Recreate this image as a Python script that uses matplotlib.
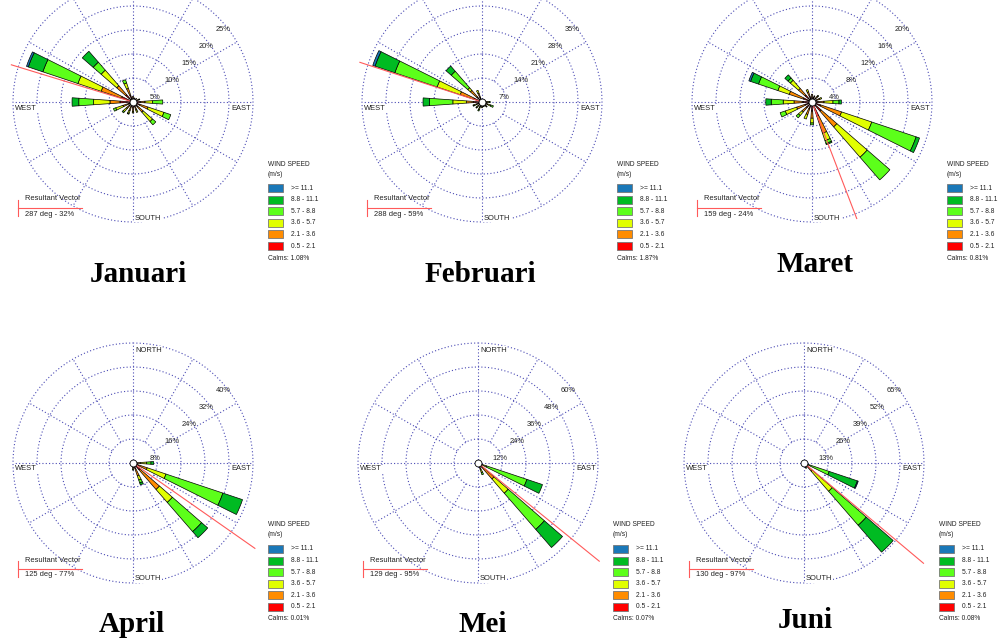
import numpy as np
import matplotlib.pyplot as plt
from matplotlib.patches import Rectangle

W, H = 998, 639

months = ["Januari", "Februari", "Maret", "April", "Mei", "Juni"]
ring_step = [5, 7, 4, 8, 12, 13]
calms = [1.08, 1.87, 0.81, 0.01, 0.07, 0.08]
result_dir = [287, 288, 159, 125, 129, 130]
result_pct = [32, 59, 24, 77, 95, 97]
directions = np.arange(16) * 22.5
speed_labels = [">= 11.1", "8.8 - 11.1", "5.7 - 8.8", "3.6 - 5.7", "2.1 - 3.6", "0.5 - 2.1"]

# frequency (%) per direction (N, NNE, ... NNW), classes from calm side out:
# 0.5-2.1, 2.1-3.6, 3.6-5.7, 5.7-8.8, 8.8-11.1, >=11.1
jan = [[0.8, 0.4, 0, 0, 0, 0], [0.6, 0.3, 0, 0, 0, 0], [0.7, 0.3, 0, 0, 0, 0],
       [0.8, 0.5, 0.2, 0, 0, 0], [1.5, 1.0, 1.6, 2.1, 0, 0], [1.5, 1.8, 3.5, 1.5, 0, 0],
       [1.3, 1.5, 2.6, 0.9, 0, 0], [1.0, 0.8, 0.5, 0, 0, 0], [1.2, 0.8, 0.3, 0, 0, 0],
       [1.0, 0.9, 0.6, 0.2, 0, 0], [0.9, 0.9, 0.9, 0.3, 0, 0], [1.0, 1.2, 1.6, 0.5, 0, 0],
       [2.7, 2.1, 3.4, 3.1, 1.4, 0], [2.5, 4.5, 5.1, 7.7, 3.2, 0.4], [2.0, 2.5, 4.3, 2.2, 3.0, 0],
       [1.5, 1.5, 1.2, 0.7, 0, 0]]
feb = [[0.6, 0.3, 0, 0, 0, 0], [0.5, 0.3, 0, 0, 0, 0], [0.5, 0.3, 0, 0, 0, 0],
       [0.6, 0.4, 0, 0, 0, 0], [0.8, 0.7, 0.6, 0.3, 0, 0], [0.8, 0.9, 1.0, 0.8, 0, 0],
       [0.7, 0.6, 0.5, 0.2, 0, 0], [0.7, 0.5, 0.3, 0, 0, 0], [0.8, 0.6, 0.3, 0, 0, 0],
       [0.8, 0.8, 0.8, 0.4, 0, 0], [0.8, 0.7, 0.6, 0.3, 0, 0], [0.9, 0.8, 0.8, 0.3, 0, 0],
       [2.5, 2.0, 4.0, 6.8, 1.9, 0], [2.5, 4.2, 7.1, 13.0, 6.1, 0.7], [2.0, 2.5, 1.0, 6.4, 2.0, 0],
       [1.5, 1.2, 0.9, 0, 0, 0]]
mar = [[0.8, 0.5, 0, 0, 0, 0], [0.7, 0.4, 0, 0, 0, 0], [0.8, 0.5, 0.2, 0, 0, 0],
       [0.8, 0.6, 0.3, 0, 0, 0], [1.0, 1.0, 1.5, 1.0, 0.4, 0], [1.5, 3.7, 5.3, 7.8, 0.6, 0],
       [2.0, 3.5, 6.7, 5.0, 0, 0], [2.5, 3.0, 1.3, 0.5, 0.2, 0], [1.5, 1.2, 0.8, 0.3, 0, 0],
       [1.2, 1.0, 0.8, 0, 0, 0], [1.2, 1.0, 0.8, 0.5, 0, 0], [1.2, 1.5, 2.0, 0.9, 0, 0],
       [1.5, 1.5, 1.8, 2.0, 0.9, 0], [1.5, 2.5, 2.0, 3.4, 1.4, 0.3], [1.5, 1.5, 1.8, 0.5, 0.7, 0],
       [1.0, 0.8, 0.4, 0, 0, 0]]
apr = [[0.3, 0.2, 0, 0, 0, 0], [0.2, 0.2, 0, 0, 0, 0], [0.3, 0.2, 0, 0, 0, 0],
       [0.4, 0.3, 0.3, 0, 0, 0], [1.0, 1.5, 2.0, 1.5, 0.9, 0], [1.0, 4.0, 6.6, 20.0, 6.9, 0],
       [3.0, 8.7, 5.7, 12.9, 2.7, 0], [2.0, 2.5, 1.5, 1.0, 0.7, 0], [0.8, 0.8, 0.6, 0.2, 0, 0],
       [0.4, 0.3, 0.2, 0, 0, 0], [0.3, 0.2, 0, 0, 0, 0], [0.2, 0.2, 0, 0, 0, 0],
       [0.3, 0.2, 0, 0, 0, 0], [0.2, 0.2, 0, 0, 0, 0], [0.3, 0.3, 0, 0, 0, 0],
       [0.3, 0.2, 0, 0, 0, 0]]
mei = [[0.2, 0.2, 0, 0, 0, 0], [0.2, 0.1, 0, 0, 0, 0], [0.2, 0.2, 0, 0, 0, 0],
       [0.2, 0.2, 0, 0, 0, 0], [0.3, 0.3, 0.2, 0, 0, 0], [0.5, 1.5, 2.5, 21.3, 8.2, 0],
       [3.0, 7.6, 9.4, 24.0, 12.0, 0], [1.2, 2.0, 1.8, 1.2, 0, 0], [0.4, 0.4, 0.2, 0, 0, 0],
       [0.3, 0.2, 0, 0, 0, 0], [0.2, 0.2, 0, 0, 0, 0], [0.2, 0.1, 0, 0, 0, 0],
       [0.2, 0.2, 0, 0, 0, 0], [0.2, 0.1, 0, 0, 0, 0], [0.2, 0.2, 0, 0, 0, 0],
       [0.2, 0.2, 0, 0, 0, 0]]
jun = [[0.2, 0.2, 0, 0, 0, 0], [0.2, 0.1, 0, 0, 0, 0], [0.2, 0.2, 0, 0, 0, 0],
       [0.2, 0.2, 0, 0, 0, 0], [0.3, 0.3, 0.2, 0, 0, 0], [0.3, 0.7, 1.0, 12.4, 16.1, 0.5],
       [2.0, 4.0, 14.3, 24.4, 19.3, 0], [0.8, 1.0, 0.8, 0.5, 0, 0], [0.4, 0.4, 0.2, 0, 0, 0],
       [0.3, 0.2, 0, 0, 0, 0], [0.2, 0.2, 0, 0, 0, 0], [0.2, 0.1, 0, 0, 0, 0],
       [0.2, 0.2, 0, 0, 0, 0], [0.2, 0.1, 0, 0, 0, 0], [0.2, 0.2, 0, 0, 0, 0],
       [0.2, 0.2, 0, 0, 0, 0]]
month_data = [jan, feb, mar, apr, mei, jun]

speed_colors = ["#ff0000", "#ff8c00", "#e1ff00", "#5cff1a", "#00bb22", "#1a78b8"]
grid_color = "#4a4ab4"

# layout in pixels (from top-left)
centers = [(133, 102), (482, 102), (812, 102), (133, 463), (478, 463), (804, 463)]
R = 120
title_pos = [(138, 282), (480, 282), (815, 272), (132, 632), (483, 632), (805, 628)]
vec_len = [1.06, 1.07, 1.04, 1.24, 1.3, 1.3]

plt.rcParams["font.family"] = ["Liberation Sans", "DejaVu Sans"]
fig = plt.figure(figsize=(W / 100, H / 100), dpi=100)

for k in range(6):
    cx, cy = centers[k]
    step = ring_step[k]
    rmax = 5 * step
    ax = fig.add_axes([(cx - R) / W, 1 - (cy + R) / H, 2 * R / W, 2 * R / H],
                      projection="polar")
    ax.set_theta_zero_location("N")
    ax.set_theta_direction(-1)
    ax.set_ylim(0, rmax)
    ax.axis("off")

    th = np.linspace(0, 2 * np.pi, 361)
    for i in range(1, 6):
        ax.plot(th, np.full_like(th, i * step), color=grid_color, lw=0.8,
                ls=(0, (1, 2)), clip_on=False, zorder=1)
    for a in range(0, 360, 30):
        r0 = 0 if a % 90 == 0 else step
        ax.plot([np.radians(a)] * 2, [r0, rmax], color=grid_color, lw=0.8,
                ls=(0, (1, 2)), zorder=1)
    for i in range(1, 6):
        ax.annotate(f"{i * step}%", xy=(np.radians(45), i * step), xytext=(5, -12),
                    textcoords="offset pixels", ha="center", va="center",
                    fontsize=5.4, color="#222222", zorder=2)

    data = month_data[k]
    for i, d in enumerate(directions):
        bottom = 0
        for c in range(6):
            v = data[i][c]
            if v > 0:
                ax.bar(np.radians(d), v, width=np.radians(8), bottom=bottom,
                       color=speed_colors[c], edgecolor="black", linewidth=0.5, zorder=3)
                bottom += v

    ax.plot([np.radians(result_dir[k])] * 2, [0, vec_len[k] * rmax], color="#ff5a5a",
            lw=0.8, clip_on=False, zorder=4)
    ax.plot([0], [0], "o", ms=5, mfc="white", mec="black", mew=0.6, zorder=5)

# overlay in pixel coordinates for the text and legends
ov = fig.add_axes([0, 0, 1, 1])
ov.set_xlim(0, W)
ov.set_ylim(H, 0)
ov.axis("off")

lbl = dict(fontsize=5.4, color="#222222", va="center")
wbox = dict(facecolor="white", edgecolor="none", pad=0.6)
for k in range(6):
    cx, cy = centers[k]
    ov.text(cx - R + 2, cy + 6, "WEST", ha="left", bbox=wbox, **lbl)
    ov.text(cx + R - 2, cy + 6, "EAST", ha="right", bbox=wbox, **lbl)
    ov.text(cx + 2, cy + R - 4, "SOUTH", ha="left", bbox=wbox, **lbl)
    if cy - R > 0:  # top row is cut above the north label
        ov.text(cx + 2, cy - R + 7, "NORTH", ha="left", bbox=wbox, **lbl)

    # speed legend
    lx = cx + 135
    ov.text(lx, cy + 62, "WIND SPEED", ha="left", **dict(lbl, fontsize=4.8))
    ov.text(lx, cy + 72, "(m/s)", ha="left", **dict(lbl, fontsize=4.8))
    for j in range(6):
        yy = cy + 86 + j * 11.6
        ov.add_patch(Rectangle((lx, yy - 4), 15, 8, facecolor=speed_colors[5 - j],
                               edgecolor="#777777", lw=0.6))
        ov.text(lx + 23, yy, speed_labels[j], ha="left", **dict(lbl, fontsize=4.8))
    ov.text(lx, cy + 156, f"Calms: {calms[k]:.2f}%", ha="left", **dict(lbl, fontsize=4.8))

    # resultant vector legend
    ov.plot([cx - 115, cx - 51], [cy + 106, cy + 106], color="#ff5a5a", lw=0.8)
    ov.plot([cx - 115, cx - 115], [cy + 98, cy + 114], color="#ff5a5a", lw=0.8)
    ov.text(cx - 108, cy + 97, "Resultant Vector", ha="left", **lbl)
    ov.text(cx - 108, cy + 112, f"{result_dir[k]} deg - {result_pct[k]}%", ha="left", **lbl)

    tx, ty = title_pos[k]
    ov.text(tx, ty, months[k], ha="center", va="baseline", fontsize=21,
            fontweight="bold", family="Liberation Serif", color="black")

fig.savefig("out.png", dpi=100)
